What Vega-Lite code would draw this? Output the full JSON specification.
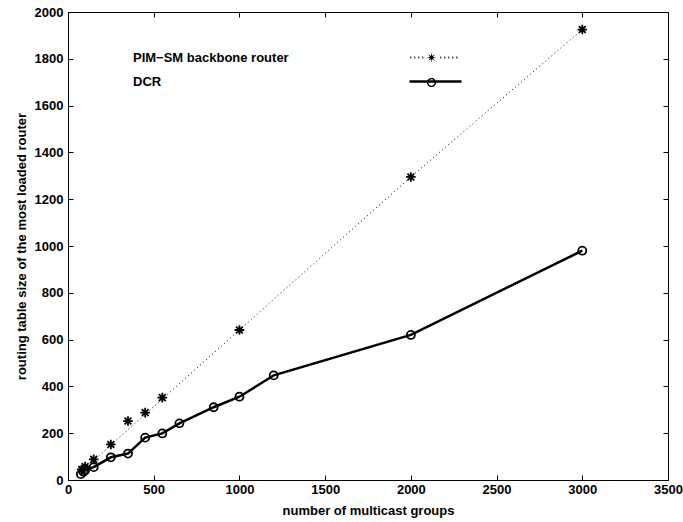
{
  "$schema": "https://vega.github.io/schema/vega-lite/v6.json",
  "width": 600,
  "height": 468,
  "autosize": {"type": "none"},
  "padding": {"left": 68, "top": 12, "right": 15, "bottom": 42},
  "background": "white",
  "config": {
    "view": {"stroke": "black", "strokeWidth": 1},
    "font": "Liberation Sans",
    "axis": {
      "labelFont": "Liberation Sans", "labelFontWeight": "bold", "labelFontSize": 13, "labelColor": "black",
      "titleFont": "Liberation Sans", "titleFontWeight": "bold", "titleFontSize": 13, "titleColor": "black",
      "domainColor": "black", "tickColor": "black", "tickSize": -5, "tickWidth": 1, "grid": false, "labelFlush": false, "format": "d"
    }
  },
  "data": {
    "values": [
      {"series": "PIM−SM backbone router", "kind": "point", "groups": 80, "size": 45},
      {"series": "PIM−SM backbone router", "kind": "point", "groups": 100, "size": 58},
      {"series": "PIM−SM backbone router", "kind": "point", "groups": 150, "size": 88},
      {"series": "PIM−SM backbone router", "kind": "point", "groups": 250, "size": 152},
      {"series": "PIM−SM backbone router", "kind": "point", "groups": 350, "size": 252},
      {"series": "PIM−SM backbone router", "kind": "point", "groups": 450, "size": 288},
      {"series": "PIM−SM backbone router", "kind": "point", "groups": 550, "size": 352},
      {"series": "PIM−SM backbone router", "kind": "point", "groups": 1000, "size": 641},
      {"series": "PIM−SM backbone router", "kind": "point", "groups": 2000, "size": 1295},
      {"series": "PIM−SM backbone router", "kind": "point", "groups": 3000, "size": 1925},
      {"series": "PIM−SM backbone router", "kind": "line", "groups": 75, "size": 35},
      {"series": "PIM−SM backbone router", "kind": "line", "groups": 1000, "size": 641},
      {"series": "PIM−SM backbone router", "kind": "line", "groups": 2000, "size": 1295},
      {"series": "PIM−SM backbone router", "kind": "line", "groups": 3000, "size": 1925},
      {"series": "DCR", "kind": "both", "groups": 75, "size": 25},
      {"series": "DCR", "kind": "both", "groups": 90, "size": 35},
      {"series": "DCR", "kind": "both", "groups": 100, "size": 42},
      {"series": "DCR", "kind": "both", "groups": 150, "size": 55},
      {"series": "DCR", "kind": "both", "groups": 250, "size": 97},
      {"series": "DCR", "kind": "both", "groups": 350, "size": 113},
      {"series": "DCR", "kind": "both", "groups": 450, "size": 181},
      {"series": "DCR", "kind": "both", "groups": 550, "size": 199},
      {"series": "DCR", "kind": "both", "groups": 650, "size": 242},
      {"series": "DCR", "kind": "both", "groups": 850, "size": 311},
      {"series": "DCR", "kind": "both", "groups": 1000, "size": 356},
      {"series": "DCR", "kind": "both", "groups": 1200, "size": 447},
      {"series": "DCR", "kind": "both", "groups": 2000, "size": 620},
      {"series": "DCR", "kind": "both", "groups": 3000, "size": 980}
    ]
  },
  "resolve": {"scale": {"shape": "independent"}},
  "layer": [
    {
      "transform": [{"filter": "datum.kind === 'line'"}],
      "mark": {"type": "line", "color": "black", "strokeWidth": 1, "strokeDash": [1, 3]},
      "encoding": {
        "x": {"field": "groups", "type": "quantitative", "scale": {"domain": [0, 3500], "nice": false},
          "axis": {"orient": "bottom", "values": [0, 500, 1000, 1500, 2000, 2500, 3000, 3500], "title": "number of multicast groups", "labelPadding": 8, "titlePadding": 8}},
        "y": {"field": "size", "type": "quantitative", "scale": {"domain": [0, 2000], "nice": false},
          "axis": {"orient": "left", "values": [0, 200, 400, 600, 800, 1000, 1200, 1400, 1600, 1800, 2000], "title": "routing table size of the most loaded router", "labelPadding": 10, "titlePadding": 6}}
      }
    },
    {
      "transform": [{"filter": "datum.kind === 'both'"}],
      "mark": {"type": "line", "color": "black", "strokeWidth": 2.5},
      "encoding": {
        "x": {"field": "groups", "type": "quantitative", "axis": null},
        "y": {"field": "size", "type": "quantitative", "axis": null}
      }
    },
    {
      "transform": [{"filter": "datum.kind !== 'line'"}],
      "mark": {"type": "point", "filled": false, "color": "black", "opacity": 1, "size": 64, "strokeWidth": 1.8},
      "encoding": {
        "x": {"field": "groups", "type": "quantitative",
          "axis": {"orient": "top", "values": [0, 500, 1000, 1500, 2000, 2500, 3000, 3500], "labels": false, "title": null}},
        "y": {"field": "size", "type": "quantitative",
          "axis": {"orient": "right", "values": [0, 200, 400, 600, 800, 1000, 1200, 1400, 1600, 1800, 2000], "labels": false, "title": null}},
        "shape": {"field": "series", "type": "nominal",
          "scale": {"domain": ["PIM−SM backbone router", "DCR"], "range": ["M0,-1.2V1.2M-1.2,0H1.2M-0.85,-0.85L0.85,0.85M-0.85,0.85L0.85,-0.85", "circle"]},
          "legend": null
        }
      }
    },
    {
      "transform": [{"filter": "false"}],
      "mark": {"type": "point", "filled": true, "color": "black", "opacity": 1, "size": 100},
      "encoding": {
        "x": {"field": "groups", "type": "quantitative", "axis": null},
        "y": {"field": "size", "type": "quantitative", "axis": null},
        "shape": {"field": "series", "type": "nominal",
          "scale": {"domain": ["PIM−SM backbone router", "DCR"], "range": [
            "M-4.24,-0.2h0.2v0.4h-0.2ZM-3.44,-0.2h0.2v0.4h-0.2ZM-2.64,-0.2h0.2v0.4h-0.2ZM-1.84,-0.2h0.2v0.4h-0.2ZM1.76,-0.2h0.2v0.4h-0.2ZM2.56,-0.2h0.2v0.4h-0.2ZM3.36,-0.2h0.2v0.4h-0.2ZM4.16,-0.2h0.2v0.4h-0.2ZM4.96,-0.2h0.2v0.4h-0.2ZM0.95,0L0.3,0.12L0.67,0.67L0.12,0.3L0,0.95L-0.12,0.3L-0.67,0.67L-0.3,0.12L-0.95,0L-0.3,-0.12L-0.67,-0.67L-0.12,-0.3L0,-0.95L0.12,-0.3L0.67,-0.67L0.3,-0.12Z",
            "M-4.4,-0.25H6V0.25H-4.4ZM0.92,0.2A0.92,0.92 0 1,1 -0.92,0.2A0.92,0.92 0 1,1 0.92,0.2ZM0.64,0.2A0.64,0.64 0 1,0 -0.64,0.2A0.64,0.64 0 1,0 0.64,0.2Z"
          ]},
          "legend": {
            "orient": "none", "legendX": 52, "legendY": 39, "title": null, "padding": 0,
            "symbolOffset": 305, "labelOffset": -305, "rowPadding": 10, "labelLimit": 400,
            "labelFont": "Liberation Sans", "labelFontSize": 13, "labelFontWeight": "bold", "labelColor": "black",
            "symbolSize": 100, "symbolStrokeWidth": 0, "symbolFillColor": "black"
          }
        }
      }
    }
  ]
}
